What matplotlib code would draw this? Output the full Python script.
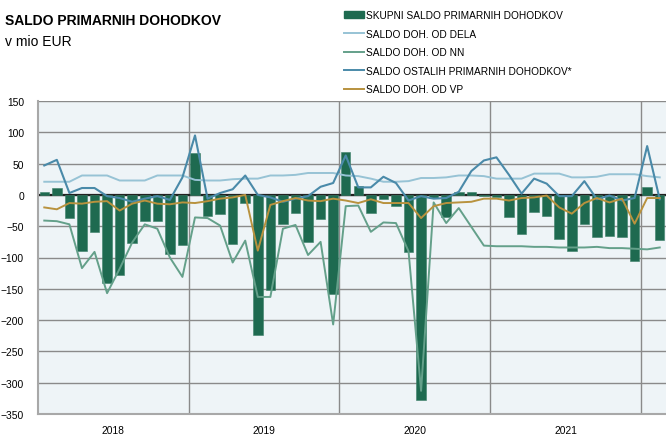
import numpy as np
from matplotlib import pyplot as plt
from matplotlib.patches import Patch
from matplotlib.lines import Line2D

# monthly data, Jan 2018 - Feb 2022 (mio EUR)
years = ['2018', '2019', '2020', '2021']

skupni = [5, 11, -37, -90, -59, -141, -128, -77, -41, -42, -94, -80,
          67, -34, -30, -79, -13, -224, -152, -46, -29, -76, -38, -158,
          68, 14, -29, -6, -17, -92, -327, -5, -36, 4, 4, -2,
          -4, -35, -62, -28, -33, -71, -89, -47, -68, -65, -67, -105,
          13, -72]

dela = [21, 21, 21, 31, 31, 31, 23, 23, 23, 31, 31, 31,
        24, 23, 23, 25, 26, 26, 31, 31, 32, 35, 35, 35,
        31, 30, 26, 21, 21, 22, 27, 27, 28, 31, 31, 30,
        26, 26, 26, 34, 34, 34, 28, 28, 29, 33, 33, 33,
        30, 28]

nn = [-41, -42, -47, -117, -91, -157, -118, -76, -47, -54, -100, -131,
      -36, -37, -49, -108, -73, -163, -163, -54, -48, -96, -75, -207,
      -18, -17, -59, -44, -45, -90, -313, -12, -45, -21, -51, -81,
      -82, -82, -82, -83, -83, -84, -84, -84, -83, -85, -85, -86,
      -87, -84]

ostali = [47, 56, 3, 11, 11, -2, -5, -11, -6, -2, -8, 28,
          95, -6, 3, 9, 31, 0, -4, -11, -6, -2, 13, 19,
          63, 12, 12, 29, 19, -9, -2, -6, -5, 5, 38, 55,
          60, 32, 2, 26, 18, -2, -2, 22, -7, -1, -9, -5,
          78, -7]

vp = [-20, -23, -13, -14, -11, -10, -25, -14, -9, -14, -15, -12,
      -13, -10, -6, -4, 0, -89, -16, -10, -5, -9, -10, -6,
      -9, -13, -7, -13, -13, -13, -37, -18, -13, -12, -11, -6,
      -6, -9, -5, -4, -1, -20, -30, -13, -5, -12, -6, -46,
      -5, -5]

labels = ['SKUPNI SALDO PRIMARNIH DOHODKOV', 'SALDO DOH. OD DELA', 'SALDO DOH. OD NN',
          'SALDO OSTALIH PRIMARNIH DOHODKOV*', 'SALDO DOH. OD VP']

C_BAR = '#1e6a50'
C_DELA = '#97c3d5'
C_NN = '#64a08a'
C_OST = '#4a8aa9'
C_VP = '#b8923e'
C_GRID = '#8a8a8a'

plt.rcParams['font.family'] = ['Liberation Sans', 'DejaVu Sans']

fig = plt.figure(figsize=(6.66, 4.35), dpi=100)
ax = fig.add_axes([38 / 666, 20 / 435, 628 / 666, 313 / 435])
ax.set_facecolor('#eef4f7')

x = np.arange(len(skupni))
ax.bar(x, skupni, width=0.76, color=C_BAR, edgecolor='#3d8068', linewidth=0.4, zorder=3)
ax.axhline(0, color='#222222', linewidth=1.6, zorder=2)
ax.plot(x, dela, color=C_DELA, linewidth=1.4, zorder=4)
ax.plot(x, nn, color=C_NN, linewidth=1.4, zorder=4)
ax.plot(x, ostali, color=C_OST, linewidth=1.5, zorder=5)
ax.plot(x, vp, color=C_VP, linewidth=1.4, zorder=5)

ax.set_xlim(-0.5, len(skupni) - 0.5)
ax.set_ylim(-350, 150)
ax.set_yticks(np.arange(-350, 151, 50))
ax.yaxis.grid(True, color=C_GRID, linewidth=1.0, zorder=1)
for b in [11.5, 23.5, 35.5, 47.5]:
    ax.axvline(b, color=C_GRID, linewidth=1.0, zorder=1)

ax.set_xticks([5.5, 17.5, 29.5, 41.5])
ax.set_xticklabels(years)
ax.tick_params(axis='both', length=0, labelsize=7.4, colors='black')
ax.tick_params(axis='y', pad=10)
ax.tick_params(axis='x', pad=8)

for side in ['left', 'bottom']:
    ax.spines[side].set_color('#a8a8a8')
    ax.spines[side].set_linewidth(1.5)
ax.spines['top'].set_visible(False)
ax.spines['right'].set_visible(False)

fig.text(5 / 666, 1 - 21 / 435, 'SALDO PRIMARNIH DOHODKOV', fontsize=10, fontweight='bold', va='center')
fig.text(5 / 666, 1 - 42 / 435, 'v mio EUR', fontsize=10, va='center')

handles = [Patch(facecolor=C_BAR, edgecolor=C_BAR),
           Line2D([], [], color=C_DELA, linewidth=1.4),
           Line2D([], [], color=C_NN, linewidth=1.4),
           Line2D([], [], color=C_OST, linewidth=1.4),
           Line2D([], [], color=C_VP, linewidth=1.4)]
fig.legend(handles, labels, loc='upper left', bbox_to_anchor=(344 / 666, 1 - 11 / 435),
           frameon=False, fontsize=7.3, handlelength=1.95, handleheight=0.6,
           handletextpad=0.25, labelspacing=0.85, borderpad=0, borderaxespad=0)

plt.savefig('out.png', dpi=100)
